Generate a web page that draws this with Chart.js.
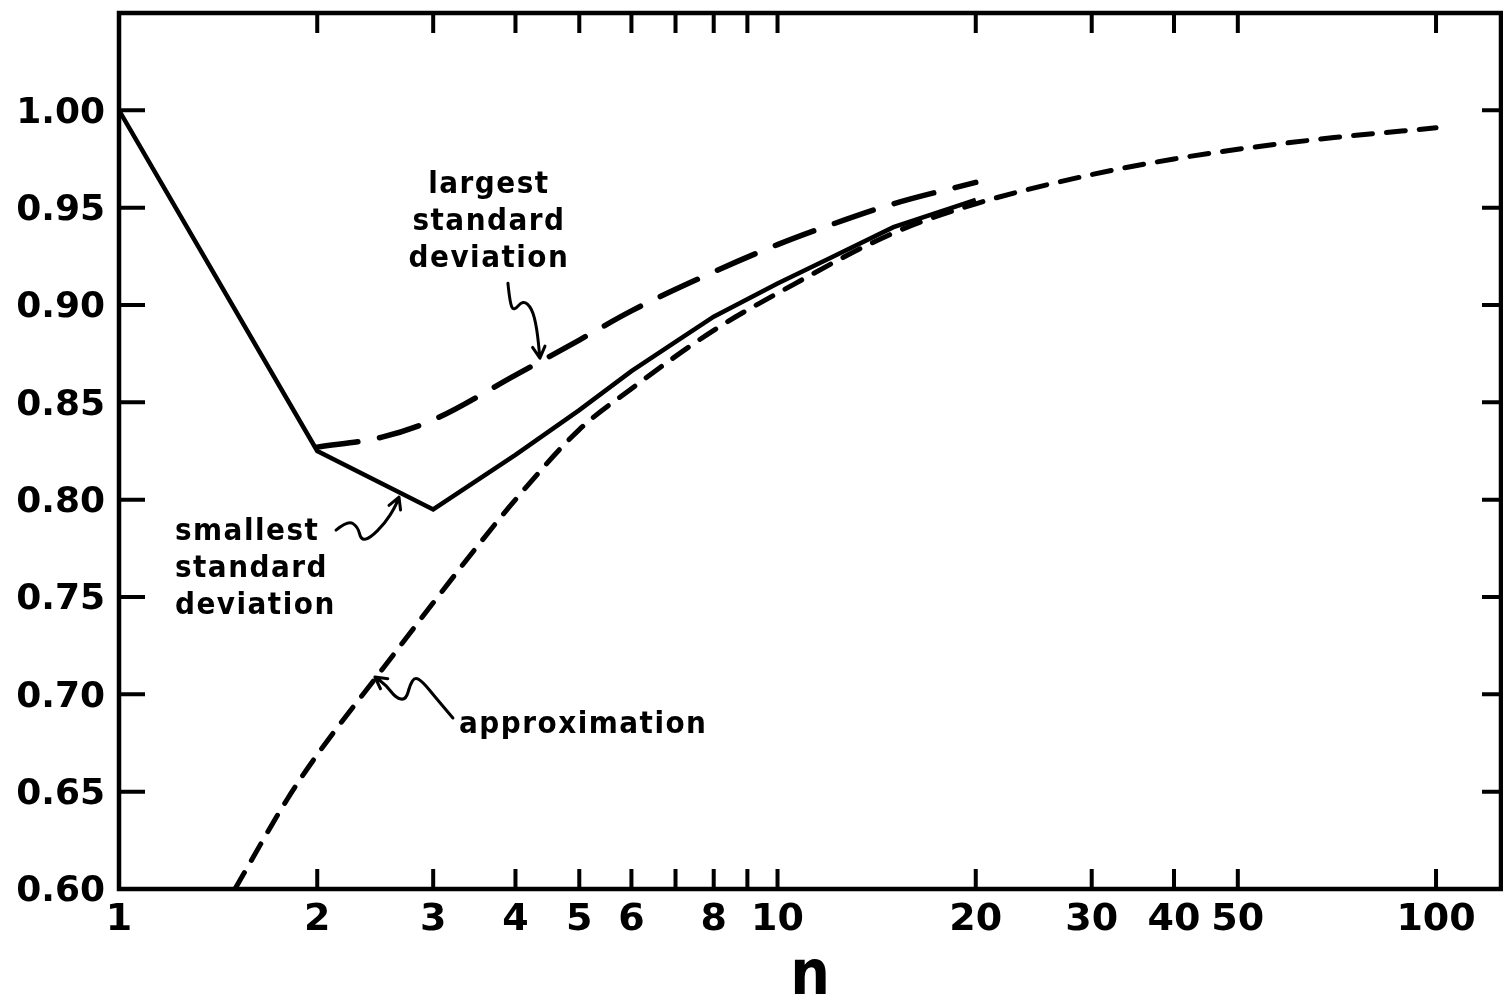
<!DOCTYPE html>
<html>
<head>
<meta charset="utf-8">
<script src="https://cdn.jsdelivr.net/npm/chart.js@4/dist/chart.umd.min.js"></script>
<style>
  html, body { margin: 0; padding: 0; background: #fff; }
  #wrap { width: 1503px; height: 1003px; }
</style>
</head>
<body>
<div id="wrap"><canvas id="grafico"></canvas></div>
<script>
// values (n on a log axis)
const smallestN = [1, 2, 3, 4, 5, 6, 7, 8, 10, 12, 15, 20];
const smallestV = [1.000, 0.825, 0.795, 0.823, 0.846, 0.866, 0.881, 0.894, 0.911, 0.924, 0.940, 0.954];

const largestN = [2, 2.5, 3, 4, 5, 6, 8, 10, 12, 15, 20];
const largestV = [0.827, 0.832, 0.841, 0.864, 0.882, 0.897, 0.917, 0.931, 0.941, 0.952, 0.963];

const approxN = [1.5, 1.8, 2, 2.5, 3, 3.5, 4, 5, 6, 8, 10, 15, 20, 30, 40, 50, 70, 100];
const approxV = [0.600, 0.646, 0.669, 0.712, 0.747, 0.776, 0.800, 0.836, 0.857, 0.887, 0.906, 0.937, 0.952, 0.967, 0.975, 0.980, 0.986, 0.991];

const xLabels = [1, 2, 3, 4, 5, 6, 8, 10, 20, 30, 40, 50, 100];
const xTickMarks = [2, 3, 4, 5, 6, 7, 8, 9, 10, 20, 30, 40, 50, 100];
const yLabels = [0.60, 0.65, 0.70, 0.75, 0.80, 0.85, 0.90, 0.95, 1.00];
const yTickMarks = [0.65, 0.70, 0.75, 0.80, 0.85, 0.90, 0.95, 1.00];

// text notes and pointer arrows (anchor in data units, squiggle in px from the tip)
const notes = [
    { lines: ['largest', 'standard', 'deviation'], n: 3.646, v: 0.9574, align: 'center' },
    { lines: ['smallest', 'standard', 'deviation'], n: 1.216, v: 0.7792, align: 'left' },
    { lines: ['approximation'], n: 3.283, v: 0.6801, align: 'left' }
];
const arrows = [
    { n: 4.357, v: 0.8727, path: [[-32, -75], [-30, -55], [-26, -47], [-17, -58], [-8, -50], [-3, -30], [0, 0]] },
    { n: 2.662, v: 0.8013, path: [[-63, 33], [-51, 23], [-41, 30], [-38, 43], [-29, 41], [-14, 26], [-4, 10], [0, 0]] },
    { n: 2.447, v: 0.7089, path: [[78, 41], [61, 21], [48, 5], [40, 0], [35, 8], [31, 23], [21, 21], [11, 8], [0, 0]] }
];

function puntos(xs, ys) {
    return xs.map((x, i) => ({ x: x, y: ys[i] }));
}

function curva(path, ctx) {
    ctx.moveTo(path[0][0], path[0][1]);
    for (let i = 1; i < path.length - 1; i++) {
        const mx = (path[i][0] + path[i + 1][0]) / 2;
        const my = (path[i][1] + path[i + 1][1]) / 2;
        ctx.quadraticCurveTo(path[i][0], path[i][1], mx, my);
    }
    const last = path[path.length - 1];
    ctx.lineTo(last[0], last[1]);
}

const marco = {
    id: 'marco',
    afterDatasetsDraw(chart) {
        const { ctx, chartArea: a, scales: { x, y } } = chart;
        ctx.save();
        ctx.strokeStyle = '#000';
        ctx.lineWidth = 4.5;
        ctx.strokeRect(a.left, a.top, a.right - a.left, a.bottom - a.top);
        ctx.lineWidth = 4;
        ctx.beginPath();
        xTickMarks.forEach(v => {
            const px = x.getPixelForValue(v);
            ctx.moveTo(px, a.bottom); ctx.lineTo(px, a.bottom - 20);
            ctx.moveTo(px, a.top); ctx.lineTo(px, a.top + 20);
        });
        yTickMarks.forEach(v => {
            const py = y.getPixelForValue(v);
            ctx.moveTo(a.left, py); ctx.lineTo(a.left + 26, py);
            ctx.moveTo(a.right, py); ctx.lineTo(a.right - 19, py);
        });
        ctx.stroke();

        // notes
        ctx.fillStyle = '#000';
        ctx.font = 'bold 31px "DejaVu Sans Condensed"';
        ctx.letterSpacing = '1.5px';
        ctx.textBaseline = 'alphabetic';
        notes.forEach(nt => {
            const px = x.getPixelForValue(nt.n);
            const py = y.getPixelForValue(nt.v);
            ctx.textAlign = nt.align;
            nt.lines.forEach((t, i) => ctx.fillText(t, px, py + i * 37));
        });

        // arrows
        ctx.lineWidth = 3;
        ctx.lineCap = 'round';
        ctx.lineJoin = 'round';
        arrows.forEach(ar => {
            const tx = x.getPixelForValue(ar.n);
            const ty = y.getPixelForValue(ar.v);
            const p = ar.path.map(q => [tx + q[0], ty + q[1]]);
            ctx.beginPath();
            curva(p, ctx);
            const prev = p[p.length - 2];
            const ang = Math.atan2(ty - prev[1], tx - prev[0]);
            const L = 13;
            ctx.moveTo(tx - L * Math.cos(ang - 0.5), ty - L * Math.sin(ang - 0.5));
            ctx.lineTo(tx, ty);
            ctx.lineTo(tx - L * Math.cos(ang + 0.5), ty - L * Math.sin(ang + 0.5));
            ctx.stroke();
        });
        ctx.restore();
    }
};

const ctx = document.getElementById('grafico').getContext('2d');
const myChart = new Chart(ctx, {
    type: 'line',
    data: {
        datasets: [{
            label: 'smallest standard deviation',
            data: puntos(smallestN, smallestV),
            borderColor: '#000',
            borderWidth: 4.5,
            borderJoinStyle: 'miter',
            tension: 0,
            pointRadius: 0
        }, {
            label: 'largest standard deviation',
            data: puntos(largestN, largestV),
            borderColor: '#000',
            borderWidth: 5.5,
            borderDash: [41, 22],
            borderCapStyle: 'round',
            cubicInterpolationMode: 'monotone',
            pointRadius: 0
        }, {
            label: 'approximation',
            data: puntos(approxN, approxV),
            borderColor: '#000',
            borderWidth: 5,
            borderDash: [19, 14],
            borderCapStyle: 'round',
            cubicInterpolationMode: 'monotone',
            pointRadius: 0
        }]
    },
    options: {
        responsive: true,
        maintainAspectRatio: false,
        animation: false,
        layout: { padding: { top: 13, right: 2, bottom: 0, left: 0 } },
        plugins: {
            legend: { display: false },
            tooltip: { enabled: false }
        },
        scales: {
            x: {
                type: 'logarithmic',
                min: 1,
                max: 125.5,
                grid: { display: false, drawTicks: false },
                border: { display: false },
                afterBuildTicks: (scale) => { scale.ticks = xLabels.map(v => ({ value: v })); },
                afterFit: (scale) => {
                    scale.height = 114;
                    scale.paddingLeft = 0; scale.paddingRight = 0;
                },
                ticks: {
                    autoSkip: false,
                    maxRotation: 0,
                    padding: 8,
                    color: '#000',
                    font: { family: 'DejaVu Sans', size: 38, weight: 'bold' },
                    callback: (value) => String(value)
                },
                title: {
                    display: true,
                    text: 'n',
                    color: '#000',
                    padding: 0,
                    font: { family: 'DejaVu Sans Condensed', size: 62, weight: 'bold', lineHeight: 0.8 }
                }
            },
            y: {
                min: 0.6,
                max: 1.05,
                grid: { display: false, drawTicks: false },
                border: { display: false },
                afterBuildTicks: (scale) => { scale.ticks = yLabels.map(v => ({ value: v })); },
                afterFit: (scale) => {
                    scale.width = 119;
                    scale.paddingTop = 0; scale.paddingBottom = 0;
                },
                ticks: {
                    padding: 14,
                    labelOffset: 3,
                    color: '#000',
                    font: { family: 'DejaVu Sans', size: 36, weight: 'bold' },
                    callback: (value) => Number(value).toFixed(2)
                }
            }
        }
    },
    plugins: [marco]
});
</script>
</body>
</html>
